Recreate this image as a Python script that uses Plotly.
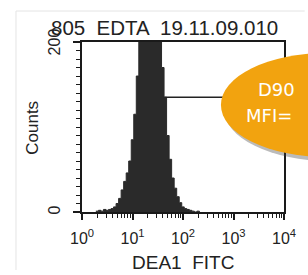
import plotly.graph_objects as go

# ---- data ----
bin_centers_log = [0.30, 0.35, 0.40, 0.45, 0.50, 0.55, 0.60, 0.65, 0.70, 0.75,
                   0.80, 0.85, 0.90, 0.95, 1.00, 1.05, 1.10, 1.15, 1.20, 1.25,
                   1.30, 1.35, 1.40, 1.45, 1.50, 1.55, 1.60, 1.65, 1.70, 1.75,
                   1.80, 1.85, 1.90, 1.95, 2.00, 2.05, 2.10, 2.15, 2.20, 2.25, 2.30]
counts = [1, 2, 1, 3, 2, 3, 4, 6, 10, 16,
          26, 36, 46, 60, 85, 115, 160, 215, 260, 290,
          300, 295, 280, 250, 225, 205, 170, 135, 90, 62,
          40, 28, 18, 11, 6, 4, 3, 2, 1, 0, 1]
bin_width_log = 0.05

gate_start_log = 1.63
gate_end_log = 4.0
gate_level = 135

x_tickvals = [1, 10, 100, 1000, 10000]
x_ticktext = ["10<sup>0</sup>", "10<sup>1</sup>", "10<sup>2</sup>", "10<sup>3</sup>", "10<sup>4</sup>"]
y_labels = ["0", "200"]
title_text = "805  EDTA  19.11.09.010"
x_title = "DEA1  FITC"
y_title = "Counts"
bubble_lines = ["D90", "MFI="]

# ---- build step histogram ----
xs = [10 ** (c - bin_width_log / 2) for c in bin_centers_log]
xs.append(10 ** (bin_centers_log[-1] + bin_width_log / 2))
ys = list(counts) + [0]

W, H = 308, 275
L, R, T, B = 82, 21, 42, 63
pw, ph = W - L - R, H - T - B

def px(x):
    return (x - L) / pw

def py(y):
    return (H - B - y) / ph

fig = go.Figure()
fig.add_trace(go.Scatter(x=xs, y=ys, mode="lines", line=dict(shape="hv", color="#2a2a2a", width=1),
                         fill="tozeroy", fillcolor="#2a2a2a", hoverinfo="skip"))
fig.add_trace(go.Scatter(x=[10 ** gate_start_log, 10 ** gate_end_log], y=[gate_level, gate_level],
                         mode="lines", line=dict(color="#222", width=1.5), hoverinfo="skip"))

font = "Liberation Sans, Arial, sans-serif"

fig.update_xaxes(type="log", range=[0, 4], showline=True, linecolor="#1a1a1a", linewidth=2,
                 mirror=True, ticks="outside", ticklen=6, tickwidth=1.5, tickcolor="#1a1a1a",
                 tickvals=x_tickvals, ticktext=x_ticktext, showgrid=False, zeroline=False,
                 ticklabelstandoff=5,
                 tickfont=dict(family=font, size=16, color="#222"),
                 minor=dict(tickmode="array",
                            tickvals=[m * 10 ** d for d in range(4) for m in range(2, 10)],
                            ticks="outside", ticklen=4, tickwidth=1.2, tickcolor="#1a1a1a",
                            showgrid=False))
fig.update_yaxes(range=[0, 200], showline=True, linecolor="#1a1a1a", linewidth=2, mirror=True,
                 ticks="outside", ticklen=7, tickwidth=1.5, tickcolor="#1a1a1a",
                 tickvals=[0, 200], showticklabels=False, showgrid=False, zeroline=False,
                 minor=dict(dtick=10, tick0=0, ticks="outside", ticklen=4, tickwidth=1.2,
                            tickcolor="#1a1a1a", showgrid=False))

shapes = [
    # faint scan edges
    dict(type="line", xref="paper", yref="paper", x0=px(15), x1=px(15), y0=py(11), y1=py(270),
         line=dict(color="#e4e4e4", width=1), layer="below"),
    dict(type="line", xref="paper", yref="paper", x0=px(15), x1=px(308), y0=py(11), y1=py(11),
         line=dict(color="#e4e4e4", width=1), layer="below"),
    # bubble shadow
    dict(type="circle", xref="paper", yref="paper", x0=px(226), x1=px(440), y0=py(161), y1=py(57),
         fillcolor="rgba(60,60,60,0.35)", line=dict(width=0), layer="above"),
    # bubble
    dict(type="circle", xref="paper", yref="paper", x0=px(223), x1=px(437), y0=py(157), y1=py(53),
         fillcolor="#F2A30F", line=dict(width=0), layer="above"),
]

annotations = [
    dict(text=title_text, xref="paper", yref="paper", x=px(49), y=py(27), xanchor="left",
         yanchor="middle", showarrow=False, font=dict(family=font, size=20.5, color="#222")),
    dict(text=x_title, xref="paper", yref="paper", x=px(185), y=py(262), xanchor="center",
         yanchor="middle", showarrow=False, font=dict(family=font, size=19, color="#222")),
    dict(text=y_title, xref="paper", yref="paper", x=px(31), y=py(128), xanchor="center",
         yanchor="middle", showarrow=False, textangle=-90, font=dict(family=font, size=17, color="#222")),
    dict(text=y_labels[0], xref="paper", yref="paper", x=px(54), y=py(210), xanchor="center",
         yanchor="middle", showarrow=False, textangle=-90, font=dict(family=font, size=16, color="#222")),
    dict(text=y_labels[1], xref="paper", yref="paper", x=px(54), y=py(42), xanchor="center",
         yanchor="middle", showarrow=False, textangle=-90, font=dict(family=font, size=16, color="#222")),
    dict(text=bubble_lines[0], xref="paper", yref="paper", x=px(259), y=py(89), xanchor="left",
         yanchor="middle", showarrow=False, font=dict(family="DejaVu Sans", size=18, color="white")),
    dict(text=bubble_lines[1], xref="paper", yref="paper", x=px(246), y=py(115), xanchor="left",
         yanchor="middle", showarrow=False, font=dict(family="DejaVu Sans", size=18, color="white")),
]

fig.update_layout(width=W, height=H, margin=dict(l=L, r=R, t=T, b=B), showlegend=False,
                  paper_bgcolor="white", plot_bgcolor="white", shapes=shapes, annotations=annotations)

fig.write_html("out.html", config={"displayModeBar": False},
               post_script="document.body.style.margin='0';document.body.style.overflow='hidden';"
                           "document.documentElement.style.overflow='hidden';")
